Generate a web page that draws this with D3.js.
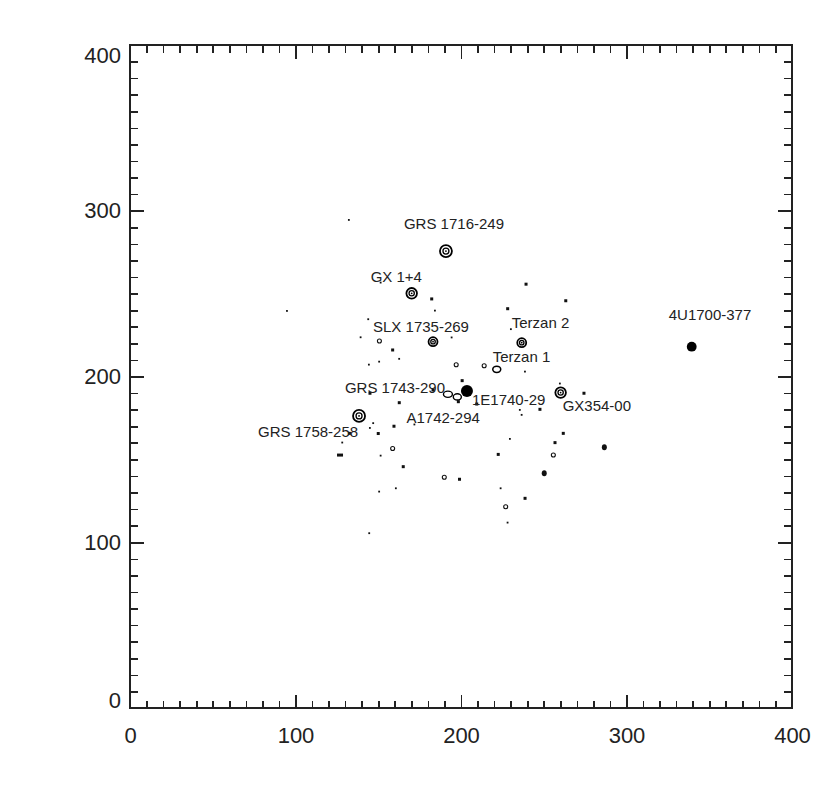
<!DOCTYPE html>
<html>
<head>
<meta charset="utf-8">
<script src="https://cdn.jsdelivr.net/npm/d3@7/dist/d3.min.js"></script>
<style>
  html, body { margin: 0; padding: 0; background: #fff; }
  svg { display: block; }
  text { font-family: "Liberation Sans", Arial, sans-serif; fill: #222; }
</style>
</head>
<body>
<svg id="chart" width="830" height="803"></svg>
<script>
// ---------------- data ----------------
const xTickValues = [0, 100, 200, 300, 400];
const yTickValues = [0, 100, 200, 300, 400];
const xTickLabels = ["0", "100", "200", "300", "400"];
const yTickLabels = ["0", "100", "200", "300", "400"];

// named sources (contour peaks)
const sourceNames = ["GRS 1716-249", "GX 1+4", "SLX 1735-269", "Terzan 2", "Terzan 1",
  "4U1700-377", "GX354-00", "1E1740-29", "GRS 1743-290", "A1742-294", "GRS 1758-258"];
const sourceX = [190.9, 170.2, 183.1, 236.7, 221.6, 339.4, 260.2, 203.6, 192.1, 171.9, 138.4];
const sourceY = [275.7, 250.2, 221.0, 220.4, 204.3, 218.0, 190.3, 191.3, 189.3, 171.0, 176.2];
const sourceKind = ["ring", "ring", "ring", "ring", "open", "filled", "ring", "filled", "open2", "dot", "ring"];
const sourceFlux = [9, 7, 5, 5, 4, 6, 7, 9, 5, 1, 9];

// weak features (x, y) and their contour kind
const weakX = [132.3, 94.9, 182.3, 184.3, 144.0, 139.4, 150.7, 158.7, 162.7, 194.4,
  239.3, 263.3, 228.2, 230.2, 144.4, 150.6, 197.1, 214.0, 238.7, 259.8,
  200.7, 145.0, 183.1, 198.4, 209.5, 235.6, 236.7, 247.7, 274.3, 162.7,
  147.0, 145.0, 150.0, 159.5, 132.6, 128.3, 126.9, 158.7, 151.5, 165.1,
  189.9, 199.1, 160.7, 150.6, 144.6, 229.6, 256.8, 261.8, 286.6, 222.5,
  255.8, 250.3, 224.0, 238.7, 227.0, 228.2, 151.5];
const weakY = [294.4, 239.5, 246.8, 239.7, 234.5, 223.6, 221.4, 216.0, 210.6, 223.5,
  255.7, 245.7, 240.9, 228.5, 207.1, 208.9, 207.1, 206.5, 202.9, 195.7,
  197.5, 189.9, 191.9, 184.8, 183.4, 179.8, 176.8, 180.2, 189.9, 184.2,
  171.8, 168.9, 165.6, 170.0, 165.7, 160.1, 152.6, 156.6, 152.2, 145.6,
  139.2, 138.0, 132.5, 130.5, 105.4, 162.3, 160.1, 165.7, 157.3, 153.0,
  152.6, 141.6, 132.5, 126.5, 121.4, 111.8, 256.6];
const weakKind = ["dot", "dot", "mark", "dot", "dot", "dot", "open", "mark", "dot", "dot",
  "mark", "mark", "mark", "dot", "dot", "dot", "open", "open", "dot", "dot",
  "mark", "mark", "mark", "mark", "mark", "dot", "dot", "mark", "mark", "mark",
  "dot", "dot", "mark", "mark", "mark", "dot", "dash", "open", "dot", "mark",
  "open", "mark", "dot", "dot", "dot", "dot", "mark", "mark", "blob", "mark",
  "open", "blob", "dot", "mark", "open", "dot", "dot"];

// label placement (pixel offsets from the source)
const labelDx = [-42, -41, -60, -10, -4, -23, 2, 5, -103, -8, -101];
const labelDy = [-22, -11, -10, -15, -7, -27, 18, 14, -1, -2, 21];

// ---------------- layout ----------------
const svg = d3.select("#chart");
const mLeft = 130, mRight = 792, mTop = 45, mBottom = 708;
const x = d3.scaleLinear().domain([0, 400]).range([mLeft, mRight]);
const y = d3.scaleLinear().domain([0, 400]).range([mBottom, mTop]);
const rScale = d3.scaleSqrt().domain([0, 9]).range([0, 6]);

const minorTicks = d3.range(10, 400, 10).filter(v => v % 100 !== 0);
const majorInner = [100, 200, 300];
const axisColor = "#222";

function styleAxis(g) {
  g.select(".domain").remove();
  g.selectAll(".tick line").attr("stroke", axisColor).attr("stroke-width", 1.6)
    .attr("shape-rendering", "crispEdges");
}

// minor ticks on all four sides
svg.append("g").attr("transform", `translate(0,${mBottom})`)
  .call(d3.axisBottom(x).tickValues(minorTicks).tickSize(-7).tickFormat(""))
  .call(styleAxis);
svg.append("g").attr("transform", `translate(0,${mTop})`)
  .call(d3.axisTop(x).tickValues(minorTicks).tickSize(-8).tickFormat(""))
  .call(styleAxis);
svg.append("g").attr("transform", `translate(${mLeft},0)`)
  .call(d3.axisLeft(y).tickValues(minorTicks).tickSize(-8).tickFormat(""))
  .call(styleAxis);
svg.append("g").attr("transform", `translate(${mRight},0)`)
  .call(d3.axisRight(y).tickValues(minorTicks).tickSize(-8).tickFormat(""))
  .call(styleAxis);

// major ticks
svg.append("g").attr("transform", `translate(0,${mTop})`)
  .call(d3.axisTop(x).tickValues(majorInner).tickSize(-14).tickFormat(""))
  .call(styleAxis);
svg.append("g").attr("transform", `translate(${mRight},0)`)
  .call(d3.axisRight(y).tickValues(majorInner).tickSize(-14).tickFormat(""))
  .call(styleAxis);

const xAxisG = svg.append("g").attr("transform", `translate(0,${mBottom})`)
  .call(d3.axisBottom(x).tickValues(xTickValues).tickSize(-13).tickPadding(19)
    .tickFormat((d, i) => xTickLabels[i]))
  .call(styleAxis);
xAxisG.selectAll(".tick").filter(d => d === 0 || d === 400).select("line").remove();
xAxisG.selectAll("text").attr("font-size", 22).attr("font-family", "Liberation Sans, Arial, sans-serif")
  .attr("fill", "#222");

const yAxisG = svg.append("g").attr("transform", `translate(${mLeft},0)`)
  .call(d3.axisLeft(y).tickValues(yTickValues).tickSize(-14).tickPadding(9)
    .tickFormat((d, i) => yTickLabels[i]))
  .call(styleAxis);
yAxisG.selectAll(".tick").filter(d => d === 0 || d === 400).select("line").remove();
yAxisG.selectAll("text").attr("font-size", 22).attr("font-family", "Liberation Sans, Arial, sans-serif")
  .attr("fill", "#222")
  .attr("transform", d => d === 0 ? "translate(0,-8)" : d === 400 ? "translate(0,10)" : null);

// frame
svg.append("rect").attr("x", mLeft).attr("y", mTop)
  .attr("width", mRight - mLeft).attr("height", mBottom - mTop)
  .attr("fill", "none").attr("stroke", axisColor).attr("stroke-width", 1.8)
  .attr("shape-rendering", "crispEdges");

// ---------------- weak features ----------------
const weak = weakX.map((v, i) => ({ x: v, y: weakY[i], k: weakKind[i] }));
const wg = svg.append("g");
weak.forEach(d => {
  const cx = x(d.x), cy = y(d.y);
  if (d.k === "dot") {
    wg.append("rect").attr("x", cx - 1).attr("y", cy - 1).attr("width", 1.8).attr("height", 1.8).attr("fill", "#111");
  } else if (d.k === "mark") {
    wg.append("rect").attr("x", cx - 1.5).attr("y", cy - 1.5).attr("width", 3).attr("height", 3).attr("fill", "#111");
  } else if (d.k === "dash") {
    wg.append("rect").attr("x", cx - 3).attr("y", cy - 1.5).attr("width", 6).attr("height", 3).attr("fill", "#111");
  } else if (d.k === "blob") {
    wg.append("ellipse").attr("cx", cx).attr("cy", cy).attr("rx", 2.5).attr("ry", 3).attr("fill", "#111");
  } else if (d.k === "open") {
    wg.append("circle").attr("cx", cx).attr("cy", cy).attr("r", 2).attr("fill", "none")
      .attr("stroke", "#111").attr("stroke-width", 1.1);
  }
});

// ---------------- named sources ----------------
const sources = sourceNames.map((n, i) => ({ n, x: sourceX[i], y: sourceY[i], k: sourceKind[i], f: sourceFlux[i], dx: labelDx[i], dy: labelDy[i] }));
const sg = svg.append("g");
sources.forEach(d => {
  const cx = x(d.x), cy = y(d.y), r = rScale(d.f);
  if (d.k === "ring") {
    sg.append("circle").attr("cx", cx).attr("cy", cy).attr("r", r).attr("fill", "none")
      .attr("stroke", "#000").attr("stroke-width", 1.8);
    sg.append("circle").attr("cx", cx).attr("cy", cy).attr("r", r * 0.5).attr("fill", "none")
      .attr("stroke", "#000").attr("stroke-width", 1.3);
    sg.append("circle").attr("cx", cx).attr("cy", cy).attr("r", 0.9).attr("fill", "#000");
  } else if (d.k === "filled") {
    sg.append("circle").attr("cx", cx).attr("cy", cy).attr("r", r).attr("fill", "#000");
  } else if (d.k === "open") {
    sg.append("ellipse").attr("cx", cx).attr("cy", cy).attr("rx", r).attr("ry", r * 0.8).attr("fill", "none")
      .attr("stroke", "#000").attr("stroke-width", 1.5);
  } else if (d.k === "open2") {
    sg.append("ellipse").attr("cx", cx).attr("cy", cy).attr("rx", r).attr("ry", r * 0.7).attr("fill", "none")
      .attr("stroke", "#000").attr("stroke-width", 1.4);
    sg.append("ellipse").attr("cx", cx + r * 2.1).attr("cy", cy + r * 0.6).attr("rx", r * 0.9).attr("ry", r * 0.7).attr("fill", "none")
      .attr("stroke", "#000").attr("stroke-width", 1.4);
  } else {
    sg.append("rect").attr("x", cx - 1).attr("y", cy - 1).attr("width", 1.8).attr("height", 1.8).attr("fill", "#111");
  }
  sg.append("text").attr("x", cx + d.dx).attr("y", cy + d.dy)
    .attr("font-size", 15).text(d.n);
});
</script>
</body>
</html>
